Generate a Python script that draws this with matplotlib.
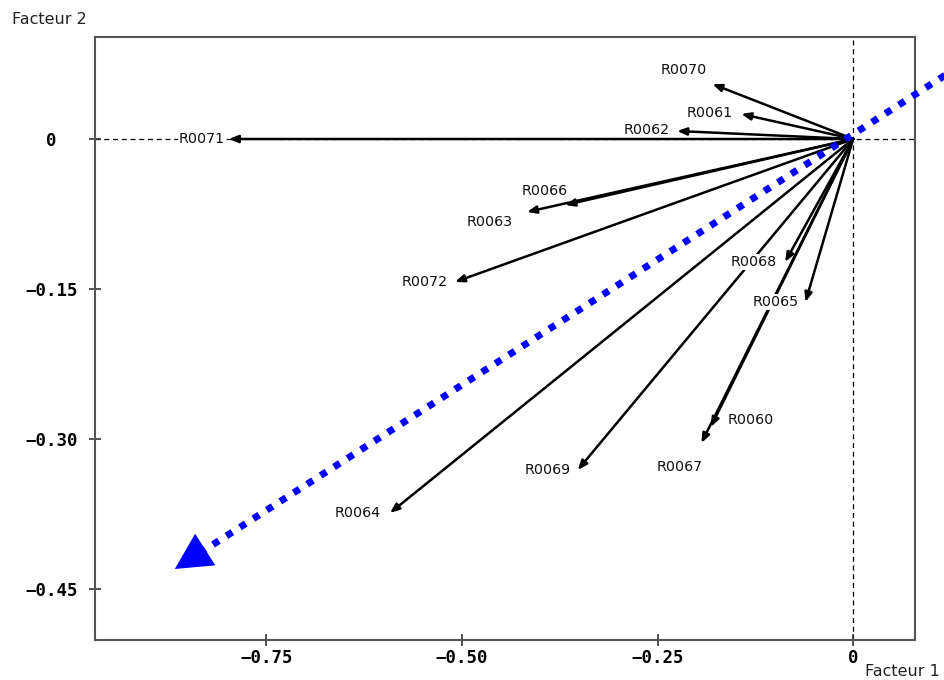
import matplotlib
matplotlib.use("Agg")
import matplotlib.pyplot as plt

# ---- data ----
labels = ["R0070", "R0061", "R0062", "R0071", "R0066", "R0063", "R0072",
          "R0068", "R0065", "R0060", "R0067", "R0069", "R0064"]
f1 = [-0.180, -0.143, -0.225, -0.798, -0.368, -0.417, -0.509,
      -0.087, -0.061, -0.182, -0.194, -0.352, -0.592]
f2 = [0.055, 0.025, 0.008, 0.000, -0.066, -0.073, -0.143,
      -0.123, -0.163, -0.288, -0.304, -0.331, -0.374]
# label anchor offsets (points) relative to arrow tip and alignment
label_off = {
    "R0070": (-4, 10, "right"), "R0061": (-6, 1, "right"), "R0062": (-5, 1, "right"),
    "R0071": (-3, 0, "right"), "R0066": (2, 10, "right"), "R0063": (-10, -7, "right"),
    "R0072": (-5, 0, "right"), "R0068": (-6, 0, "right"), "R0065": (-5, 0, "right"),
    "R0060": (12, 5, "left"), "R0067": (1, -17, "right"), "R0069": (-5, 0, "right"),
    "R0064": (-7, 0, "right"),
}
xticks = [-0.75, -0.50, -0.25, 0.0]
xticklabels = ["\u22120.75", "\u22120.50", "\u22120.25", "0"]
yticks = [0.0, -0.15, -0.30, -0.45]
yticklabels = ["0", "\u22120.15", "\u22120.30", "\u22120.45"]
# blue dotted axis: start (outside plot) and tip
blue_start = (0.118, 0.064)
blue_tip = (-0.867, -0.430)
xlim = (-0.969, 0.079)
ylim = (-0.501, 0.102)

fig = plt.figure(figsize=(9.45, 6.8), dpi=100)
ax = fig.add_axes([95/945, 40/680, 820/945, 603/680])
ax.set_xlim(*xlim)
ax.set_ylim(*ylim)

for s in ax.spines.values():
    s.set_color("#555555")
    s.set_linewidth(1.5)

ax.axhline(0, color="black", lw=0.9, ls=(0, (4, 3)), zorder=1)
ax.axvline(0, color="black", lw=0.9, ls=(0, (4, 3)), zorder=1)

# black arrows
for lab, x, y in zip(labels, f1, f2):
    ax.annotate("", xy=(x, y), xytext=(0, 0),
                arrowprops=dict(arrowstyle="-|>,head_length=0.55,head_width=0.22",
                                mutation_scale=10, color="black", lw=1.8,
                                shrinkA=0, shrinkB=0), zorder=3)
    dx, dy, ha = label_off[lab]
    ax.annotate(lab, xy=(x, y), xytext=(dx, dy), textcoords="offset points",
                ha=ha, va="center", fontsize=10.3, family="DejaVu Sans",
                color="#111111", zorder=5,
                bbox=dict(facecolor="white", edgecolor="none", pad=0.5))

# blue dotted axis
hb_x = blue_tip[0] + (blue_start[0] - blue_tip[0]) * 0.035
hb_y = blue_tip[1] + (blue_start[1] - blue_tip[1]) * 0.035
ax.plot([blue_start[0], hb_x], [blue_start[1], hb_y], color="#0000ff", lw=5,
        ls=(0, (1.0, 1.3)), dash_capstyle="butt", clip_on=False, zorder=6)
ax.annotate("", xy=blue_tip, xytext=(hb_x + 0.05, hb_y + 0.025),
            arrowprops=dict(arrowstyle="-|>,head_length=2.6,head_width=1.35",
                            mutation_scale=10, color="#0000ff", lw=0,
                            shrinkA=0, shrinkB=0), zorder=6)

ax.set_xticks(xticks)
ax.set_xticklabels(xticklabels)
ax.set_yticks(yticks)
ax.set_yticklabels(yticklabels)
ax.tick_params(direction="inout", length=9, width=1.2, color="#333333",
               labelsize=12.5, pad=4)
ax.tick_params(axis="y", pad=27)
ax.tick_params(axis="x", pad=2)
for t in ax.get_xticklabels():
    t.set_family("DejaVu Sans Mono")
    t.set_fontweight("bold")
for t in ax.get_yticklabels():
    t.set_family("DejaVu Sans Mono")
    t.set_fontweight("bold")
    t.set_horizontalalignment("center")

fig.text(12/945, 1 - 20/680, "Facteur 2", fontsize=11.5, va="center", ha="left",
         family="DejaVu Sans", color="#222222")
fig.text(865/945, 1 - 672/680, "Facteur 1", fontsize=11.5, va="center", ha="left",
         family="DejaVu Sans", color="#222222")

fig.savefig("out.png", dpi=100, facecolor="white")
